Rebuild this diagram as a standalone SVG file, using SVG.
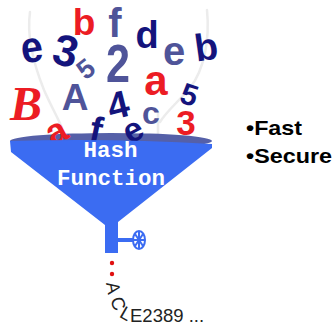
<svg xmlns="http://www.w3.org/2000/svg" width="335" height="332" viewBox="0 0 335 332">
  <style>
    .ch { font-family: "Liberation Sans", Arial, sans-serif; font-weight: bold; text-anchor: middle; }
    .serif { font-family: "Liberation Serif", "Times New Roman", serif; font-style: italic; }
    .navy { fill: #14147c; }
    .slate { fill: #4f5499; }
    .red { fill: #ec1c24; }
    .swirl { fill: none; stroke: #ececec; stroke-width: 2.5; stroke-linecap: round; }
    .blue { fill: #3b6cf2; }
    .label { font-family: "Liberation Mono", "Courier New", monospace; font-weight: bold; font-size: 22.5px; fill: #ffffff; text-anchor: middle; }
    .bullet { font-family: "Liberation Sans", Arial, sans-serif; font-weight: bold; font-size: 21px; fill: #000000; }
    .out { font-family: "Liberation Sans", Arial, sans-serif; font-size: 18.5px; fill: #222222; }
  </style>

  <rect width="335" height="332" fill="#ffffff"/>

  <!-- faint streams falling into the funnel -->
  <g id="streams">
    <path class="swirl" d="M30,12 C26,40 36,70 44,90 C52,108 58,118 62,128"/>
    <path class="swirl" d="M207,10 C210,40 204,70 190,88 C176,104 166,112 160,122"/>
    <path class="swirl" d="M158,112 L158,136"/>
  </g>

  <!-- funnel rim (inside) -->
  <ellipse id="rim" cx="111" cy="141" rx="101" ry="8" fill="#5560a8"/>

  <!-- tumbling characters -->
  <g id="characters">
    <text class="ch navy" x="32" y="62" font-size="44" textLength="22" lengthAdjust="spacingAndGlyphs" transform="rotate(-8 32 50)">e</text>
    <text class="ch navy" x="66" y="66" font-size="44" transform="rotate(14 66 50)">3</text>
    <text class="ch red" x="84" y="35" font-size="37">b</text>
    <text class="ch slate" x="115" y="37" font-size="40">f</text>
    <text class="ch slate" x="86" y="78" font-size="27" transform="rotate(-38 86 69)">5</text>
    <text class="ch slate" x="118" y="82" font-size="54" textLength="24" lengthAdjust="spacingAndGlyphs">2</text>
    <text class="ch navy" x="147" y="48" font-size="38">d</text>
    <text class="ch slate" x="174" y="65" font-size="40">e</text>
    <text class="ch navy" x="206" y="60" font-size="38" transform="rotate(-8 206 46)">b</text>
    <text class="ch red" x="156" y="95" font-size="42">a</text>
    <text class="ch navy" x="189" y="105" font-size="30" transform="rotate(18 189 96)">5</text>
    <text class="ch serif red" x="26" y="120" font-size="48">B</text>
    <text class="ch slate" x="75" y="110" font-size="37">A</text>
    <text class="ch navy" x="118" y="118" font-size="38" transform="rotate(-14 118 104)">4</text>
    <text class="ch slate" x="151" y="124" font-size="32">c</text>
    <text class="ch red" x="186" y="135" font-size="35">3</text>
    <text class="ch red" x="57" y="143" font-size="36" transform="rotate(-28 57 133)">a</text>
    <text class="ch navy" x="96" y="142" font-size="36" transform="rotate(12 96 130)">f</text>
    <text class="ch navy" x="134" y="141" font-size="34" transform="rotate(-28 134 132)">e</text>
  </g>

  <!-- funnel body, spout and valve -->
  <g id="funnel">
    <path class="blue" d="M10,141 Q111,138 212,144 L212,148 L118,222 L118,253 L105,253 L105,225 L11,152 Z"/>
    <rect class="blue" x="117" y="238" width="16" height="4"/>
    <g fill="none" stroke="#3b6cf2" stroke-width="2">
      <ellipse cx="139" cy="240" rx="6" ry="9"/>
      <line x1="133" y1="240" x2="145" y2="240"/>
      <line x1="139" y1="231" x2="139" y2="249"/>
      <line x1="135" y1="234" x2="143" y2="246"/>
      <line x1="143" y1="234" x2="135" y2="246"/>
    </g>
    <text class="label" x="110.5" y="157">Hash</text>
    <text class="label" x="111" y="185">Function</text>
  </g>

  <!-- drips and the resulting digest -->
  <g id="output">
    <circle cx="112" cy="263" r="2.2" fill="#e01010"/>
    <circle cx="112" cy="274" r="2.2" fill="#e01010"/>
    <text class="out" x="113" y="294" text-anchor="middle" transform="rotate(80 113 288)">A</text>
    <text class="out" x="117" y="309" text-anchor="middle" transform="rotate(70 117 304)">C</text>
    <text class="out" x="126" y="320" text-anchor="middle" transform="rotate(30 126 314)">L</text>
    <text class="out" x="130" y="322">E2389 ...</text>
  </g>

  <!-- properties -->
  <g id="properties">
    <text class="bullet" x="246" y="135" textLength="56" lengthAdjust="spacingAndGlyphs">•Fast</text>
    <text class="bullet" x="246" y="163" textLength="86" lengthAdjust="spacingAndGlyphs">•Secure</text>
  </g>
</svg>
